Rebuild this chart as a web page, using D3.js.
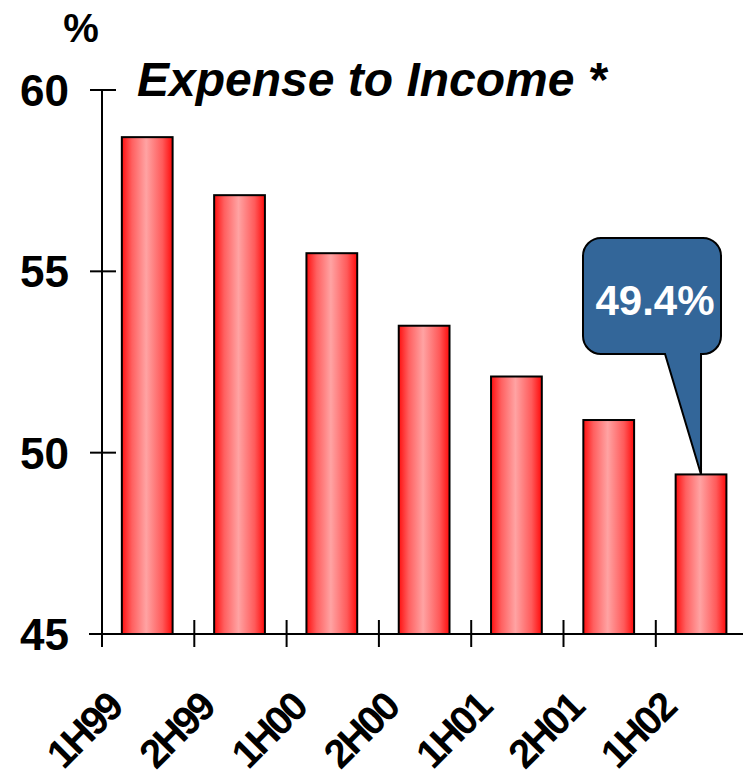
<!DOCTYPE html>
<html>
<head>
<meta charset="utf-8">
<script src="https://cdn.jsdelivr.net/npm/d3@7/dist/d3.min.js"></script>
<style>
  html, body { margin: 0; padding: 0; background: #ffffff; }
  svg { display: block; font-family: "Liberation Sans", Arial, sans-serif; }
</style>
</head>
<body>
<div id="chart"></div>
<script>
(function() {

  "use strict";

  // data
  var categories = ['1H99', '2H99', '1H00', '2H00', '1H01', '2H01', '1H02'];
  var values = [58.7, 57.1, 55.5, 53.5, 52.1, 50.9, 49.4];
  var yTicks = [45, 50, 55, 60];
  var calloutText = '49.4%';

  var width = 743;
  var height = 783;
  var margin = { top: 90, right: -5, bottom: 149, left: 102 };

  var svg = d3.select('#chart').append('svg')
    .attr('width', width)
    .attr('height', height);

  var defs = svg.append('defs');
  var grad = defs.append('linearGradient')
    .attr('id', 'barFill')
    .attr('x1', '0%').attr('x2', '100%')
    .attr('y1', '0%').attr('y2', '0%');
  grad.append('stop').attr('offset', '0%').attr('stop-color', '#ff1010');
  grad.append('stop').attr('offset', '20%').attr('stop-color', '#ff6060');
  grad.append('stop').attr('offset', '48%').attr('stop-color', '#ffa3a3');
  grad.append('stop').attr('offset', '80%').attr('stop-color', '#ff5a5a');
  grad.append('stop').attr('offset', '100%').attr('stop-color', '#ff0a0a');

  var x = d3.scaleBand()
    .domain(categories)
    .range([margin.left, margin.left + 92.3 * categories.length])
    .padding(0);

  var y = d3.scaleLinear()
    .domain([45, 60])
    .range([height - margin.bottom, margin.top]);

  var barW = x.bandwidth() * 0.55;
  var barOff = x.bandwidth() * 0.215;

  // bars
  svg.append('g')
    .selectAll('rect')
    .data(values)
    .enter()
    .append('rect')
    .attr('x', function(d, i) { return x(categories[i]) + barOff; })
    .attr('y', function(d) { return y(d); })
    .attr('width', barW)
    .attr('height', function(d) { return y(45) - y(d); })
    .attr('fill', 'url(#barFill)')
    .attr('stroke', '#000')
    .attr('stroke-width', 2);

  // y axis
  var yAxis = svg.append('g');
  yAxis.append('line')
    .attr('x1', margin.left).attr('x2', margin.left)
    .attr('y1', y(60)).attr('y2', y(45))
    .attr('stroke', '#000').attr('stroke-width', 2);
  yAxis.selectAll('line.tick')
    .data(yTicks)
    .enter()
    .append('line')
    .attr('class', 'tick')
    .attr('x1', margin.left - 12).attr('x2', margin.left + 14)
    .attr('y1', function(d) { return y(d); })
    .attr('y2', function(d) { return y(d); })
    .attr('stroke', '#000').attr('stroke-width', 2);
  yAxis.selectAll('text')
    .data(yTicks)
    .enter()
    .append('text')
    .attr('x', 69)
    .attr('y', function(d) { return y(d) + 16; })
    .attr('text-anchor', 'end')
    .attr('font-size', 44)
    .attr('font-weight', 'bold')
    .text(function(d) { return d; });

  // x axis
  var xAxis = svg.append('g');
  xAxis.append('line')
    .attr('x1', margin.left - 13).attr('x2', width)
    .attr('y1', y(45)).attr('y2', y(45))
    .attr('stroke', '#000').attr('stroke-width', 2);
  xAxis.selectAll('line.tick')
    .data(categories)
    .enter()
    .append('line')
    .attr('class', 'tick')
    .attr('x1', function(d) { return x(d); })
    .attr('x2', function(d) { return x(d); })
    .attr('y1', y(45) - 14).attr('y2', y(45) + 13)
    .attr('stroke', '#000').attr('stroke-width', 2);
  xAxis.selectAll('text')
    .data(categories)
    .enter()
    .append('text')
    .attr('transform', function(d) {
      return 'translate(' + (x(d) + x.bandwidth() / 2 - 24) + ',' + 710 + ') rotate(-45)';
    })
    .attr('text-anchor', 'end')
    .attr('font-size', 40)
    .attr('font-weight', 'bold')
    .attr('letter-spacing', -2.5)
    .text(function(d) { return d; });

  // unit and title
  svg.append('text')
    .attr('x', 81).attr('y', 42)
    .attr('text-anchor', 'middle')
    .attr('font-size', 40)
    .attr('font-weight', 'bold')
    .text('%');

  svg.append('text')
    .attr('x', 137).attr('y', 96)
    .attr('font-size', 48)
    .attr('font-weight', 'bold')
    .attr('font-style', 'italic')
    .text('Expense to Income *');

  // callout on the last bar
  var last = categories.length - 1;
  var tipX = x(categories[last]) + barOff + barW / 2;
  var tipY = y(values[last]);
  var bx0 = 583, bx1 = 721, by0 = 238, by1 = 354, r = 18;
  var p = d3.path();
  p.moveTo(bx0 + r, by0);
  p.lineTo(bx1 - r, by0);
  p.arcTo(bx1, by0, bx1, by0 + r, r);
  p.lineTo(bx1, by1 - r);
  p.arcTo(bx1, by1, bx1 - r, by1, r);
  p.lineTo(tipX, by1);
  p.lineTo(tipX, tipY);
  p.lineTo(tipX - 36, by1);
  p.lineTo(bx0 + r, by1);
  p.arcTo(bx0, by1, bx0, by1 - r, r);
  p.lineTo(bx0, by0 + r);
  p.arcTo(bx0, by0, bx0 + r, by0, r);
  p.closePath();

  svg.append('path')
    .attr('d', p.toString())
    .attr('fill', '#336699')
    .attr('stroke', '#000')
    .attr('stroke-width', 2);

  svg.append('text')
    .attr('x', (bx0 + bx1) / 2 + 3)
    .attr('y', 315)
    .attr('text-anchor', 'middle')
    .attr('fill', '#fff')
    .attr('font-size', 42)
    .attr('font-weight', 'bold')
    .text(calloutText);

})();
</script>
</body>
</html>
